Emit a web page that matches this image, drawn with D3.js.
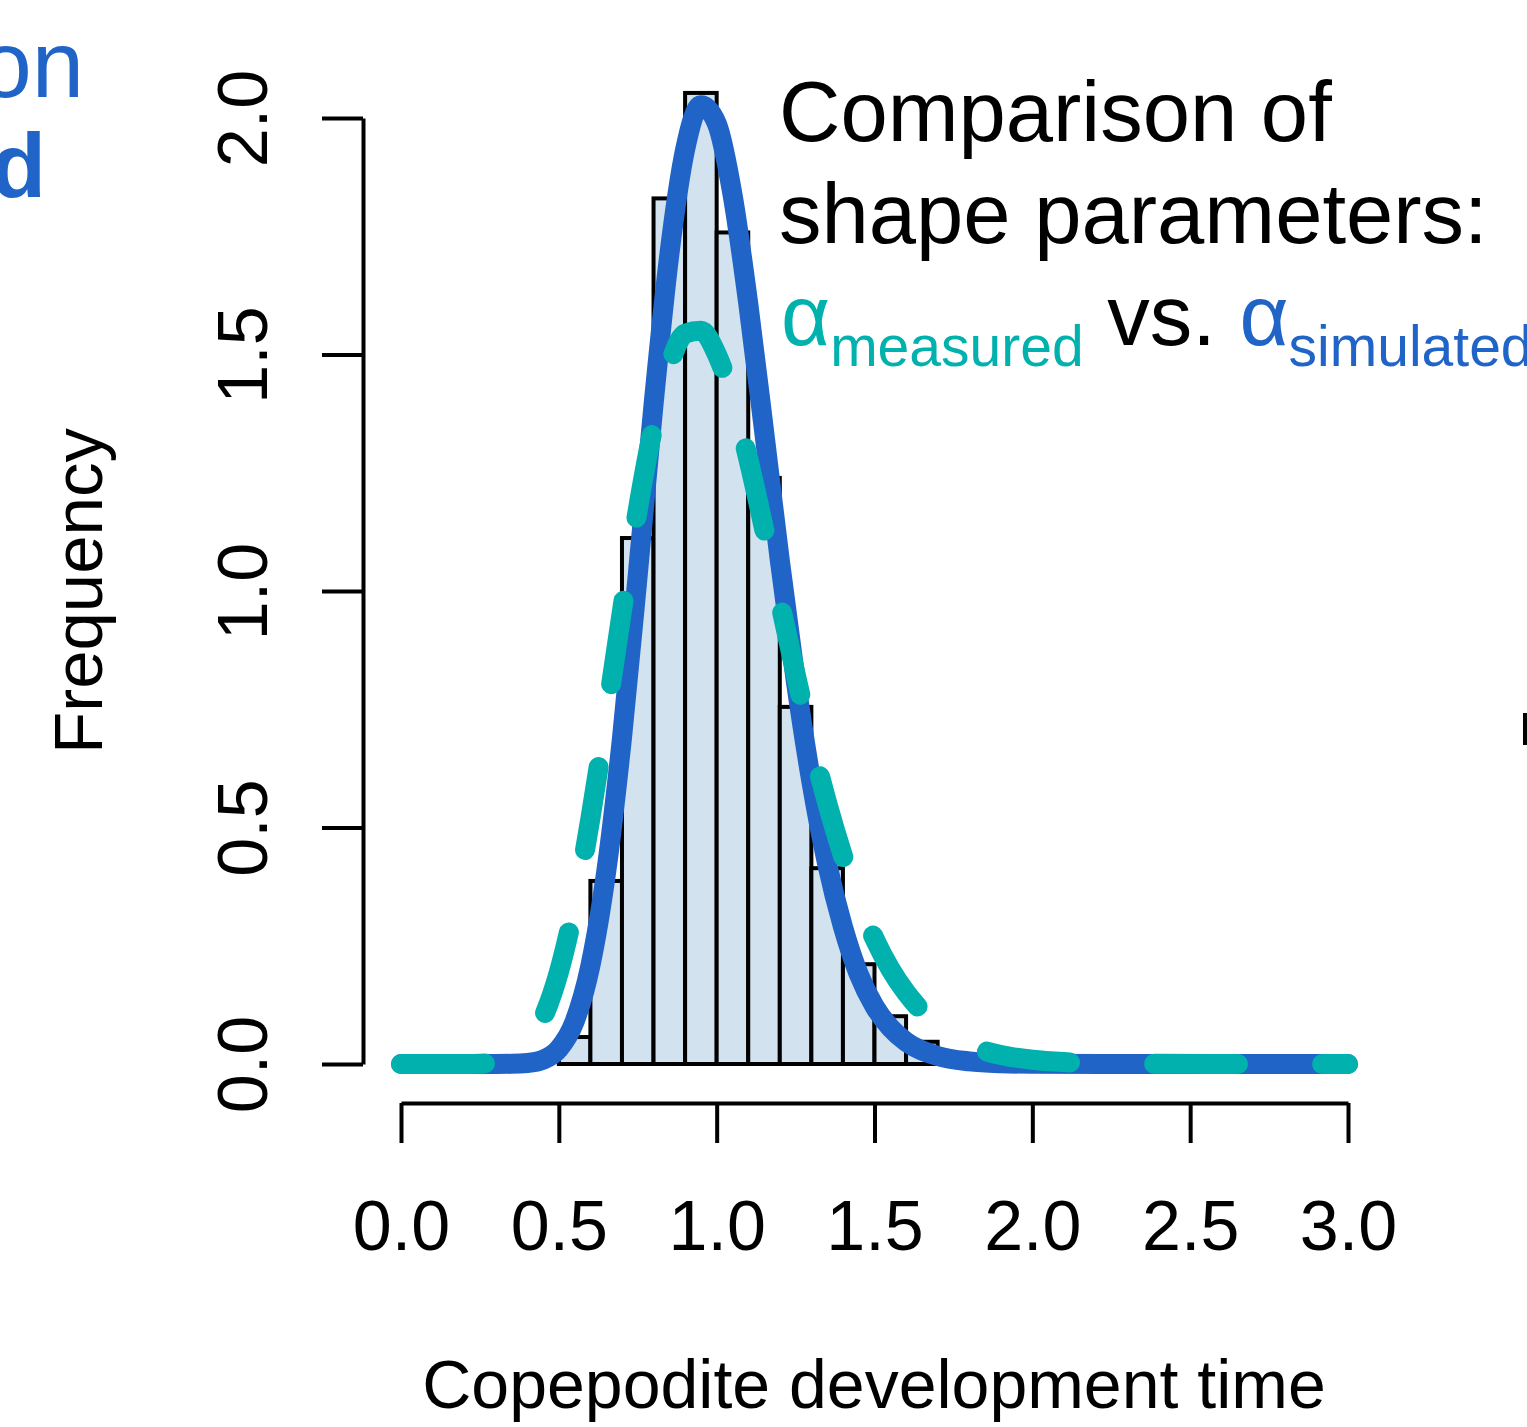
<!DOCTYPE html>
<html>
<head>
<meta charset="utf-8">
<script src="https://cdn.jsdelivr.net/npm/d3@7"></script>
<style>
  html, body { margin: 0; padding: 0; background: #fff; overflow: hidden; }
  svg { display: block; }
  text { font-family: "Liberation Sans", Arial, Helvetica, sans-serif; }
</style>
</head>
<body>
<svg id="chart" width="1527" height="1427"></svg>
<script>
// ---------------- data ----------------
const binWidth = 0.1;
const binStarts = [0.5, 0.6, 0.7, 0.8, 0.9, 1.0, 1.1, 1.2, 1.3, 1.4, 1.5, 1.6];
const binFreq   = [0.057, 0.387, 1.112, 1.830, 2.053, 1.758, 1.239, 0.755, 0.414, 0.211, 0.101, 0.047];

// simulated-alpha density curve (solid blue)
const simX = [0.0, 0.30, 0.35, 0.40, 0.45, 0.50, 0.55, 0.60, 0.65, 0.70, 0.75, 0.80, 0.85, 0.90, 0.95, 1.00,
              1.05, 1.10, 1.15, 1.20, 1.25, 1.30, 1.35, 1.40, 1.45, 1.50, 1.55, 1.60, 1.70, 1.80, 1.90, 2.00, 2.50, 3.00];
const simY = [0.0, 0.000, 0.0003, 0.002, 0.009, 0.032, 0.090, 0.208, 0.406, 0.689, 1.034, 1.394, 1.711, 1.933, 2.027, 1.989,
              1.839, 1.608, 1.339, 1.065, 0.813, 0.597, 0.423, 0.290, 0.190, 0.122, 0.077, 0.047, 0.017, 0.0055, 0.0016, 0.0005, 0.0, 0.0];

// measured-alpha density curve (dashed teal)
const meaX = [0.0, 0.20, 0.25, 0.30, 0.35, 0.40, 0.45, 0.50, 0.55, 0.60, 0.65, 0.70, 0.75, 0.80, 0.85, 0.90, 0.95,
              1.00, 1.05, 1.10, 1.15, 1.20, 1.25, 1.30, 1.35, 1.40, 1.45, 1.50, 1.55, 1.60, 1.65, 1.70, 1.80, 1.90,
              2.00, 2.10, 2.20, 2.40, 2.70, 3.00];
const meaY = [0.0, 0.0001, 0.0007, 0.004, 0.015, 0.043, 0.098, 0.194, 0.335, 0.519, 0.733, 0.958, 1.171, 1.348, 1.476, 1.544, 1.550,
              1.501, 1.407, 1.280, 1.132, 0.978, 0.825, 0.681, 0.552, 0.440, 0.344, 0.265, 0.201, 0.151, 0.112, 0.081, 0.040, 0.019,
              0.009, 0.004, 0.0018, 0.0004, 0.0, 0.0];

const xTicks = [0.0, 0.5, 1.0, 1.5, 2.0, 2.5, 3.0];
const yTicks = [0.0, 0.5, 1.0, 1.5, 2.0];

const xTitle = "Copepodite development time";
const yTitle = "Frequency";
const titleLines = ["Comparison of", "shape parameters:"];

// ---------------- styles ----------------
const blue = "#2064C8";
const teal = "#00B1AD";
const barFill = "#D3E2EF";
const lw = 20;

const svg = d3.select("#chart");

const x = d3.scaleLinear().domain([0, 3]).range([401, 1348]);
const y = d3.scaleLinear().domain([0, 2]).range([1064, 118]);

// histogram bars
svg.append("g")
  .selectAll("rect")
  .data(binStarts.map((s, i) => ({ s, f: binFreq[i] })))
  .join("rect")
  .attr("x", d => x(d.s))
  .attr("y", d => y(d.f))
  .attr("width", d => x(d.s + binWidth) - x(d.s))
  .attr("height", d => y(0) - y(d.f))
  .attr("fill", barFill)
  .attr("stroke", "#000")
  .attr("stroke-width", 4);

// y axis
const yAxis = svg.append("g")
  .attr("transform", "translate(363,0)")
  .call(d3.axisLeft(y).tickValues(yTicks).tickSize(41).tickSizeOuter(0).tickFormat(d3.format(".1f")));
yAxis.select(".domain").attr("stroke-width", 4);
yAxis.selectAll(".tick line").attr("stroke-width", 4);
yAxis.selectAll(".tick text")
  .attr("x", null).attr("dy", null)
  .attr("transform", "translate(-96,0) rotate(-90)")
  .attr("text-anchor", "middle")
  .attr("font-size", 70)
  .attr("font-family", "Liberation Sans, Arial, sans-serif")
  .attr("fill", "#000");

// x axis
const xAxis = svg.append("g")
  .attr("transform", "translate(0,1103)")
  .call(d3.axisBottom(x).tickValues(xTicks).tickSize(40).tickSizeOuter(0).tickFormat(d3.format(".1f")));
xAxis.select(".domain").attr("stroke-width", 4);
xAxis.selectAll(".tick line").attr("stroke-width", 4);
xAxis.selectAll(".tick text")
  .attr("y", 147).attr("dy", null)
  .attr("font-size", 70)
  .attr("font-family", "Liberation Sans, Arial, sans-serif")
  .attr("fill", "#000");

// density curves
const line = d3.line().x(d => x(d[0])).y(d => y(d[1])).curve(d3.curveMonotoneX);

svg.append("path")
  .datum(simX.map((v, i) => [v, simY[i]]))
  .attr("d", line)
  .attr("fill", "none")
  .attr("stroke", blue)
  .attr("stroke-width", lw)
  .attr("stroke-linecap", "round")
  .attr("stroke-linejoin", "round");

svg.append("path")
  .datum(meaX.map((v, i) => [v, meaY[i]]))
  .attr("d", line)
  .attr("fill", "none")
  .attr("stroke", teal)
  .attr("stroke-width", lw)
  .attr("stroke-dasharray", "84,84")
  .attr("stroke-linecap", "round")
  .attr("stroke-linejoin", "round");

// axis titles
svg.append("text")
  .attr("x", 874).attr("y", 1408)
  .attr("text-anchor", "middle")
  .attr("font-size", 68)
  .text(xTitle);

svg.append("text")
  .attr("transform", "translate(102,591) rotate(-90)")
  .attr("text-anchor", "middle")
  .attr("font-size", 69)
  .text(yTitle);

// annotation title
svg.append("text").attr("x", 779).attr("y", 141).attr("font-size", 85).text(titleLines[0]);
svg.append("text").attr("x", 779).attr("y", 243).attr("font-size", 85).text(titleLines[1]);

const t3 = svg.append("text").attr("x", 781).attr("y", 345).attr("font-size", 85);
t3.append("tspan").attr("fill", teal).text("α");
t3.append("tspan").attr("fill", teal).attr("font-size", 57).attr("dy", 21).text("measured");
t3.append("tspan").attr("fill", "#000").attr("dy", -21).text(" vs. ");
t3.append("tspan").attr("fill", blue).text("α");
t3.append("tspan").attr("fill", blue).attr("font-size", 57).attr("dy", 21).text("simulated");

// fragments of neighbouring panel text (cut by the frame, as in the original)
svg.append("text").attr("x", 84).attr("y", 97).attr("text-anchor", "end")
  .attr("font-size", 94).attr("fill", blue).text("on");
svg.append("text").attr("x", 46).attr("y", 197).attr("text-anchor", "end")
  .attr("font-size", 90).attr("font-weight", "bold").attr("fill", blue).text("d");
svg.append("line").attr("x1", 1525).attr("x2", 1525).attr("y1", 713).attr("y2", 745)
  .attr("stroke", "#000").attr("stroke-width", 4);
</script>
</body>
</html>
